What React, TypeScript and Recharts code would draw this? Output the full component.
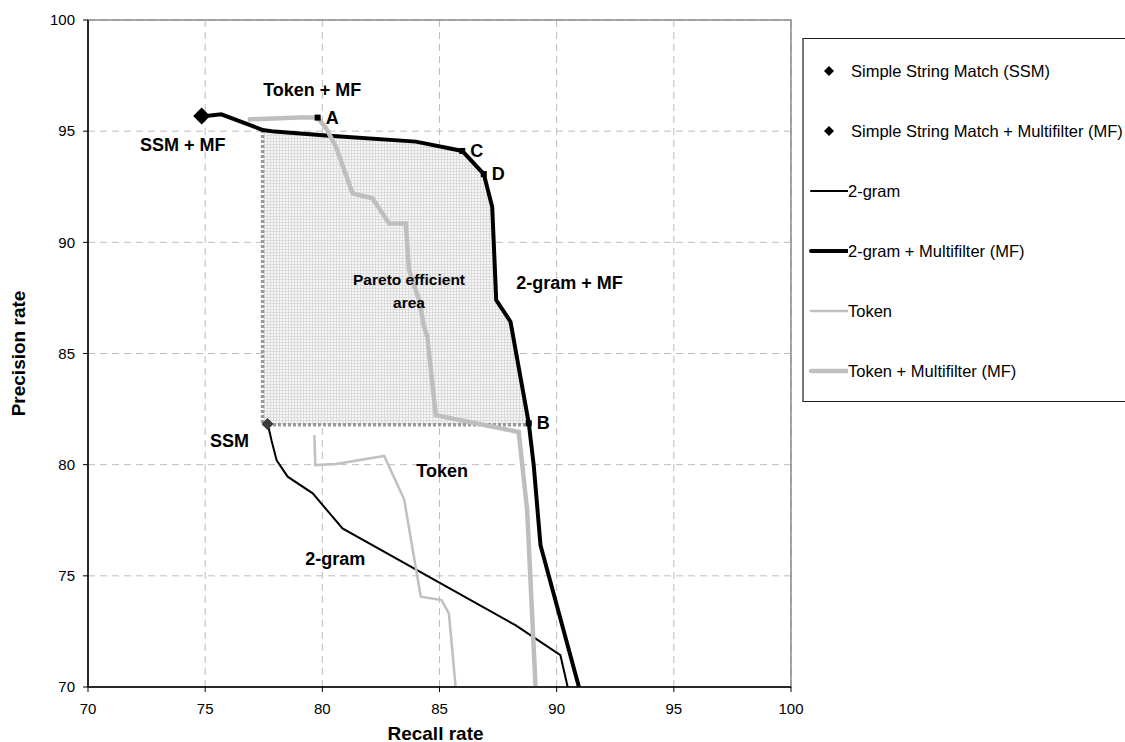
import React from "react";
import {
  ComposedChart,
  Line,
  Area,
  Scatter,
  XAxis,
  YAxis,
  CartesianGrid,
  Legend,
  Label,
  ReferenceArea,
} from "recharts";

const FONT = '"Liberation Sans", Arial, sans-serif';

const axisTicks = [70, 75, 80, 85, 90, 95, 100];

// single operating points (recall, precision)
const ssm = [{ x: 77.66, y: 81.83 }];
const ssmMf = [{ x: 74.85, y: 95.68 }];

const twoGram = [
  { x: 77.67, y: 81.83 },
  { x: 77.83, y: 81.1 },
  { x: 78.05, y: 80.2 },
  { x: 78.52, y: 79.46 },
  { x: 79.59, y: 78.71 },
  { x: 80.86, y: 77.13 },
  { x: 88.24, y: 72.78 },
  { x: 90.16, y: 71.43 },
  { x: 90.47, y: 70 },
];

const twoGramMf = [
  { x: 74.83, y: 95.66 },
  { x: 75.69, y: 95.76 },
  { x: 77.46, y: 95.05 },
  { x: 77.96, y: 94.98 },
  { x: 80.16, y: 94.8 },
  { x: 83.99, y: 94.53 },
  { x: 85.97, y: 94.11 },
  { x: 86.89, y: 93.07 },
  { x: 87.25, y: 91.59 },
  { x: 87.42, y: 87.4 },
  { x: 88.03, y: 86.43 },
  { x: 88.81, y: 81.86 },
  { x: 89.02, y: 79.98 },
  { x: 89.31, y: 76.38 },
  { x: 90.95, y: 70 },
];

const token = [
  { x: 79.66, y: 81.33 },
  { x: 79.7, y: 79.98 },
  { x: 80.58, y: 80.03 },
  { x: 82.64, y: 80.39 },
  { x: 83.49, y: 78.44 },
  { x: 84.2, y: 74.06 },
  { x: 85.09, y: 73.91 },
  { x: 85.4, y: 73.31 },
  { x: 85.69, y: 70 },
];

const tokenMf = [
  { x: 76.82, y: 95.53 },
  { x: 79.02, y: 95.61 },
  { x: 79.8, y: 95.61 },
  { x: 80.16, y: 95.13 },
  { x: 80.58, y: 94.3 },
  { x: 81.29, y: 92.2 },
  { x: 82.14, y: 91.98 },
  { x: 82.85, y: 90.85 },
  { x: 83.56, y: 90.85 },
  { x: 83.7, y: 88.75 },
  { x: 84.13, y: 87.4 },
  { x: 84.34, y: 86.2 },
  { x: 84.48, y: 85.75 },
  { x: 84.84, y: 82.23 },
  { x: 88.38, y: 81.47 },
  { x: 88.74, y: 77.96 },
  { x: 89.1, y: 70 },
];

// Pareto efficient area: bounded by SSM precision and the 2-gram + MF frontier
const paretoLeft = 77.45;
const paretoFloor = 81.8;
const paretoTop = twoGramMf.filter((p) => p.x >= paretoLeft && p.y >= paretoFloor);
const paretoEdge = [
  { x: paretoLeft, y: paretoTop[0].y },
  { x: paretoLeft, y: paretoFloor },
  { x: paretoTop[paretoTop.length - 1].x, y: paretoFloor },
];

const cornerMarks = [
  { x: 79.8, y: 95.61, label: "A" },
  { x: 88.81, y: 81.86, label: "B" },
  { x: 85.97, y: 94.11, label: "C" },
  { x: 86.89, y: 93.07, label: "D" },
];

const notes = [
  { x: 79.57, y: 96.85, text: "Token + MF", size: 18 },
  { x: 74.04, y: 94.38, text: "SSM + MF", size: 18 },
  { x: 83.7, y: 87.85, text: "Pareto efficient\narea", size: 15.5 },
  { x: 90.55, y: 88.17, text: "2-gram + MF", size: 18 },
  { x: 76.04, y: 81.06, text: "SSM", size: 18 },
  { x: 85.11, y: 79.71, text: "Token", size: 18 },
  { x: 80.55, y: 75.75, text: "2-gram", size: 18 },
];

const legendItems = [
  { name: "Simple String Match (SSM)", kind: "diamond", color: "#000", width: 0 },
  { name: "Simple String Match + Multifilter (MF)", kind: "diamond", color: "#000", width: 0 },
  { name: "2-gram", kind: "line", color: "#000", width: 2 },
  { name: "2-gram + Multifilter (MF)", kind: "line", color: "#000", width: 4 },
  { name: "Token", kind: "line", color: "#c0c0c0", width: 2.5 },
  { name: "Token + Multifilter (MF)", kind: "line", color: "#c0c0c0", width: 4.5 },
];

const diamond = (r: number, fill: string) => (props: any) => {
  const { cx, cy } = props;
  if (cx == null || cy == null) return <g />;
  return (
    <polygon
      points={`${cx},${cy - r} ${cx + r},${cy} ${cx},${cy + r} ${cx - r},${cy}`}
      fill={fill}
    />
  );
};

const cornerShape = (props: any) => {
  const { cx, cy, payload } = props;
  return (
    <g>
      <rect x={cx - 3} y={cy - 3} width={6} height={6} fill="#000" />
      <text
        x={cx + 8}
        y={cy}
        dominantBaseline="central"
        fontFamily={FONT}
        fontWeight="bold"
        fontSize={18}
        fill="#000"
      >
        {payload.label}
      </text>
    </g>
  );
};

const noteShape = (props: any) => {
  const { cx, cy, payload } = props;
  const lines = String(payload.text).split("\n");
  const lh = 23;
  const top = cy - ((lines.length - 1) * lh) / 2;
  return (
    <text
      x={cx}
      y={top}
      textAnchor="middle"
      dominantBaseline="central"
      fontFamily={FONT}
      fontWeight="bold"
      fontSize={payload.size}
      fill="#000"
    >
      {lines.map((l, i) => (
        <tspan key={i} x={cx} y={top + i * lh}>
          {l}
        </tspan>
      ))}
    </text>
  );
};

function LegendBox() {
  return (
    <div
      style={{
        position: "relative",
        width: 330,
        height: 364,
        border: "1px solid #222",
        borderLeft: "2px solid #777",
        background: "#fff",
        fontFamily: FONT,
        fontSize: 16.5,
        color: "#000",
        boxSizing: "border-box",
      }}
    >
      {legendItems.map((it, i) => (
        <div
          key={it.name}
          style={{
            position: "absolute",
            left: 0,
            top: 32 + i * 60 - 10,
            height: 20,
            display: "flex",
            alignItems: "center",
            whiteSpace: "nowrap",
          }}
        >
          {it.kind === "diamond" ? (
            <svg width={47} height={20}>
              <polygon points="25,5 30,10 25,15 20,10" fill={it.color} />
            </svg>
          ) : (
            <svg width={44} height={20}>
              <line x1={7} y1={10} x2={44} y2={10} stroke={it.color} strokeWidth={it.width} strokeLinecap="round" />
            </svg>
          )}
          <span>{it.name}</span>
        </div>
      ))}
    </div>
  );
}

export default function App() {
  return (
    <div style={{ position: "absolute", left: 0, top: 0, width: 1125, height: 742, overflow: "hidden", background: "#fff" }}>
      <ComposedChart
        width={1125}
        height={742}
        margin={{ top: 20, right: 334, bottom: 0, left: 0 }}
      >
        <defs>
          <pattern id="paretoGrid" width="3" height="3" patternUnits="userSpaceOnUse">
            <rect width="3" height="3" fill="#f6f6f6" />
            <path d="M0 0.5H3M0.5 0V3" stroke="#dcdcdc" strokeWidth="1" />
          </pattern>
        </defs>
        <CartesianGrid stroke="#bdbdbd" strokeDasharray="7 5" />
        <XAxis
          type="number"
          dataKey="x"
          domain={[70, 100]}
          ticks={axisTicks}
          allowDataOverflow
          height={55}
          tick={{ fill: "#000", fontSize: 15, fontFamily: FONT }}
          tickSize={5}
          tickMargin={11}
          axisLine={{ stroke: "#000", strokeWidth: 1.5 }}
          tickLine={{ stroke: "#000" }}
        >
          <Label
            content={(p: any) => (
              <text
                x={p.viewBox.x + p.viewBox.width / 2 - 4}
                y={p.viewBox.y + 46}
                textAnchor="middle"
                dominantBaseline="central"
                fontFamily={FONT}
                fontWeight="bold"
                fontSize={19}
                fill="#000"
              >
                Recall rate
              </text>
            )}
          />
        </XAxis>
        <YAxis
          type="number"
          dataKey="y"
          domain={[70, 100]}
          ticks={axisTicks}
          allowDataOverflow
          width={88}
          tick={{ fill: "#000", fontSize: 15, fontFamily: FONT }}
          tickSize={5}
          tickMargin={8}
          axisLine={{ stroke: "#000", strokeWidth: 1.5 }}
          tickLine={{ stroke: "#000" }}
        >
          <Label
            content={(p: any) => {
              const x = p.viewBox.x + 18;
              const y = p.viewBox.y + p.viewBox.height / 2;
              return (
                <text
                  x={x}
                  y={y}
                  transform={`rotate(-90 ${x} ${y})`}
                  textAnchor="middle"
                  dominantBaseline="central"
                  fontFamily={FONT}
                  fontWeight="bold"
                  fontSize={19}
                  fill="#000"
                >
                  Precision rate
                </text>
              );
            }}
          />
        </YAxis>
        <ReferenceArea x1={70} x2={100} y1={70} y2={100} fill="none" stroke="#8a8a8a" strokeWidth={1.5} />
        <Area
          data={paretoTop}
          dataKey="y"
          type="linear"
          baseValue={paretoFloor}
          fill="url(#paretoGrid)"
          fillOpacity={1}
          stroke="#888"
          strokeWidth={1}
          strokeDasharray="1 1"
          isAnimationActive={false}
          legendType="none"
        />
        <Line
          data={paretoEdge}
          dataKey="y"
          type="linear"
          stroke="#999"
          strokeWidth={3.5}
          strokeDasharray="3 2"
          dot={false}
          isAnimationActive={false}
          legendType="none"
        />
        <Line data={twoGram} dataKey="y" type="linear" stroke="#000" strokeWidth={2} dot={false} isAnimationActive={false} />
        <Line data={twoGramMf} dataKey="y" type="linear" stroke="#000" strokeWidth={4} dot={false} isAnimationActive={false} />
        <Line data={token} dataKey="y" type="linear" stroke="#c0c0c0" strokeWidth={2.5} dot={false} isAnimationActive={false} />
        <Line data={tokenMf} dataKey="y" type="linear" stroke="#bebebe" strokeWidth={4.5} dot={false} isAnimationActive={false} />
        <Scatter data={ssm} dataKey="y" shape={diamond(6, "#3a3a3a")} isAnimationActive={false} />
        <Scatter data={ssmMf} dataKey="y" shape={diamond(8.5, "#000")} isAnimationActive={false} />
        <Scatter data={cornerMarks} dataKey="y" shape={cornerShape} isAnimationActive={false} />
        <Scatter data={notes} dataKey="y" shape={noteShape} isAnimationActive={false} />
        <Legend
          layout="horizontal"
          align="center"
          verticalAlign="middle"
          width={330}
          height={364}
          wrapperStyle={{ left: 802, top: 38, right: "auto", bottom: "auto", width: 330, height: 364 }}
          content={() => <LegendBox />}
        />
      </ComposedChart>
    </div>
  );
}
